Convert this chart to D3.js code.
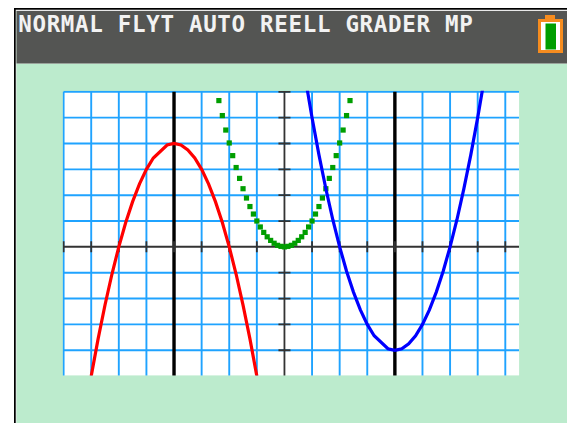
<!DOCTYPE html>
<html>
<head>
<meta charset="utf-8">
<script src="https://cdn.jsdelivr.net/npm/d3@7"></script>
<style>
html,body{margin:0;padding:0;background:#fff;overflow:hidden}
svg{display:block}
</style>
</head>
<body>
<svg id="chart" width="567" height="423"></svg>
<script>
const menuLabel = "NORMAL FLYT AUTO REELL GRADER MP";
const gridX = [-8,-7,-6,-5,-3,-2,-1,1,2,3,5,6,7,8];
const gridY = [-4,-3,-2,-1,1,2,3,4,5,6];
const heavyX = [-4,4];
const tickX = [-8,-7,-6,-5,-4,-3,-2,-1,1,2,3,4,5,6,7,8];
const tickY = [-4,-3,-2,-1,1,2,3,4,5,6];

const redX = [-7,-6.75,-6.5,-6.25,-6,-5.75,-5.5,-5.25,-5,-4.75,-4.25,-4,-3.75,-3.5,-3.25,-3,-2.75,-2.5,-2.25,-2,-1.75,-1.5,-1.25,-1];
const redY = [-5,-3.56,-2.25,-1.06,0,0.94,1.75,2.44,3,3.44,3.94,4,3.94,3.75,3.44,3,2.44,1.75,0.94,0,-1.06,-2.25,-3.56,-5];

const greenX = [-2.375,-2.25,-2.125,-2,-1.875,-1.75,-1.625,-1.5,-1.375,-1.25,-1.125,-1,-0.875,-0.75,-0.625,-0.5,-0.375,-0.25,-0.125,0,0.125,0.25,0.375,0.5,0.625,0.75,0.875,1,1.125,1.25,1.375,1.5,1.625,1.75,1.875,2,2.125,2.25,2.375];
const greenY = [5.66,5.08,4.52,4.02,3.53,3.07,2.65,2.25,1.89,1.56,1.27,1.0,0.77,0.56,0.39,0.25,0.14,0.06,0.02,0,0.02,0.06,0.14,0.25,0.39,0.56,0.77,1.0,1.27,1.56,1.89,2.25,2.65,3.07,3.53,4.02,4.52,5.08,5.66];

const blueX = [0.75,1,1.25,1.5,1.75,2,2.25,2.5,2.75,3,3.25,3.75,4,4.25,4.5,4.75,5,5.25,5.5,5.75,6,6.25,6.5,6.75,7,7.25];
const blueY = [6.56,5,3.56,2.25,1.06,0,-0.94,-1.75,-2.44,-3,-3.44,-3.94,-4,-3.94,-3.75,-3.44,-3,-2.44,-1.75,-0.94,0,1.06,2.25,3.56,5,6.56];

const svg = d3.select("#chart");

const x = d3.scaleLinear().domain([-8,8.5]).range([63.6,519.1]);
const y = d3.scaleLinear().domain([-5,6]).range([376.1,91.8]);

// page frame
svg.append("rect").attr("x",14).attr("y",8).attr("width",553).attr("height",415).attr("fill","#000");
svg.append("rect").attr("x",15.7).attr("y",9.7).attr("width",552).attr("height",414).attr("fill","#e8e8e8");
svg.append("rect").attr("x",16.5).attr("y",11).attr("width",551).attr("height",412).attr("fill","#bcebcd");
svg.append("rect").attr("x",16.5).attr("y",11).attr("width",551).attr("height",52).attr("fill","#545553");
svg.append("rect").attr("x",16.5).attr("y",63).attr("width",551).attr("height",1).attr("fill","#9aa39c");

svg.append("text")
  .attr("x",18.2).attr("y",32)
  .attr("font-family","'DejaVu Sans Mono'")
  .attr("font-weight","bold")
  .attr("font-size",22.5)
  .attr("letter-spacing",0.68)
  .attr("xml:space","preserve")
  .attr("fill","#f2f2f2")
  .text(menuLabel);

// battery icon
const bat = svg.append("g");
bat.append("rect").attr("x",545).attr("y",15).attr("width",10).attr("height",6).attr("fill","#f68c1f");
bat.append("rect").attr("x",539.5).attr("y",20.5).attr("width",22).attr("height",31).attr("fill","#fff").attr("stroke","#f68c1f").attr("stroke-width",3);
bat.append("rect").attr("x",545.5).attr("y",23.5).attr("width",10.5).attr("height",26).attr("fill","#009e00");

// plot area
const bottomEdge = 375.4;
svg.append("rect").attr("x",x(-8)).attr("y",y(6)).attr("width",x(8.5)-x(-8)).attr("height",bottomEdge-y(6)).attr("fill","#fff");
svg.append("defs").append("clipPath").attr("id","plot")
  .append("rect").attr("x",x(-8)-1).attr("y",y(6)-1).attr("width",x(8.5)-x(-8)+1).attr("height",bottomEdge-y(6)+1);

const plot = svg.append("g").attr("clip-path","url(#plot)");
const gridColor = "#1fa3ff";

// grid through d3 axes
const gx = plot.append("g").attr("transform",`translate(0,${y(-5)})`)
  .call(d3.axisBottom(x).tickValues(gridX).tickSize(y(-5)-y(6)).tickSizeOuter(0).offset(0).tickFormat(""));
gx.selectAll(".tick line").attr("y2",-(y(-5)-y(6)));
const gy = plot.append("g").attr("transform",`translate(${x(-8)},0)`)
  .call(d3.axisLeft(y).tickValues(gridY).tickSize(x(-8)-x(8.5)).tickSizeOuter(0).offset(0).tickFormat(""));
[gx,gy].forEach(g=>{
  g.select(".domain").remove();
  g.selectAll(".tick line").attr("stroke",gridColor).attr("stroke-width",1.9);
});

// axes
plot.selectAll(".hx").data(heavyX).join("line").attr("class","hx")
  .attr("x1",d=>x(d)).attr("x2",d=>x(d)).attr("y1",y(6)).attr("y2",y(-5))
  .attr("stroke","#000").attr("stroke-width",3.4);
plot.append("line").attr("x1",x(-8)).attr("x2",x(8.5)).attr("y1",y(0)).attr("y2",y(0)).attr("stroke","#333").attr("stroke-width",2);
plot.append("line").attr("x1",x(0)).attr("x2",x(0)).attr("y1",y(6)).attr("y2",y(-5)).attr("stroke","#333").attr("stroke-width",1.8);
plot.selectAll(".tx").data(tickX).join("line").attr("class","tx")
  .attr("x1",d=>x(d)).attr("x2",d=>x(d)).attr("y1",y(0)-5.5).attr("y2",y(0)+5.5)
  .attr("stroke","#333").attr("stroke-width",1.8);
plot.selectAll(".ty").data(tickY).join("line").attr("class","ty")
  .attr("x1",x(0)-6).attr("x2",x(0)+6).attr("y1",d=>y(d)).attr("y2",d=>y(d))
  .attr("stroke","#333").attr("stroke-width",1.8);

const line = d3.line().x(d=>x(d[0])).y(d=>y(d[1]));

// green dotted series
plot.selectAll(".g").data(d3.zip(greenX,greenY)).join("rect").attr("class","g")
  .attr("x",d=>x(d[0])-2.6).attr("y",d=>y(d[1])-2.6).attr("width",5.2).attr("height",5.2)
  .attr("fill","#009e00");

plot.append("path").datum(d3.zip(redX,redY)).attr("d",line)
  .attr("fill","none").attr("stroke","#ff0000").attr("stroke-width",3.2);
plot.append("path").datum(d3.zip(blueX,blueY)).attr("d",line)
  .attr("fill","none").attr("stroke","#0000ff").attr("stroke-width",3.2);
</script>
</body>
</html>
